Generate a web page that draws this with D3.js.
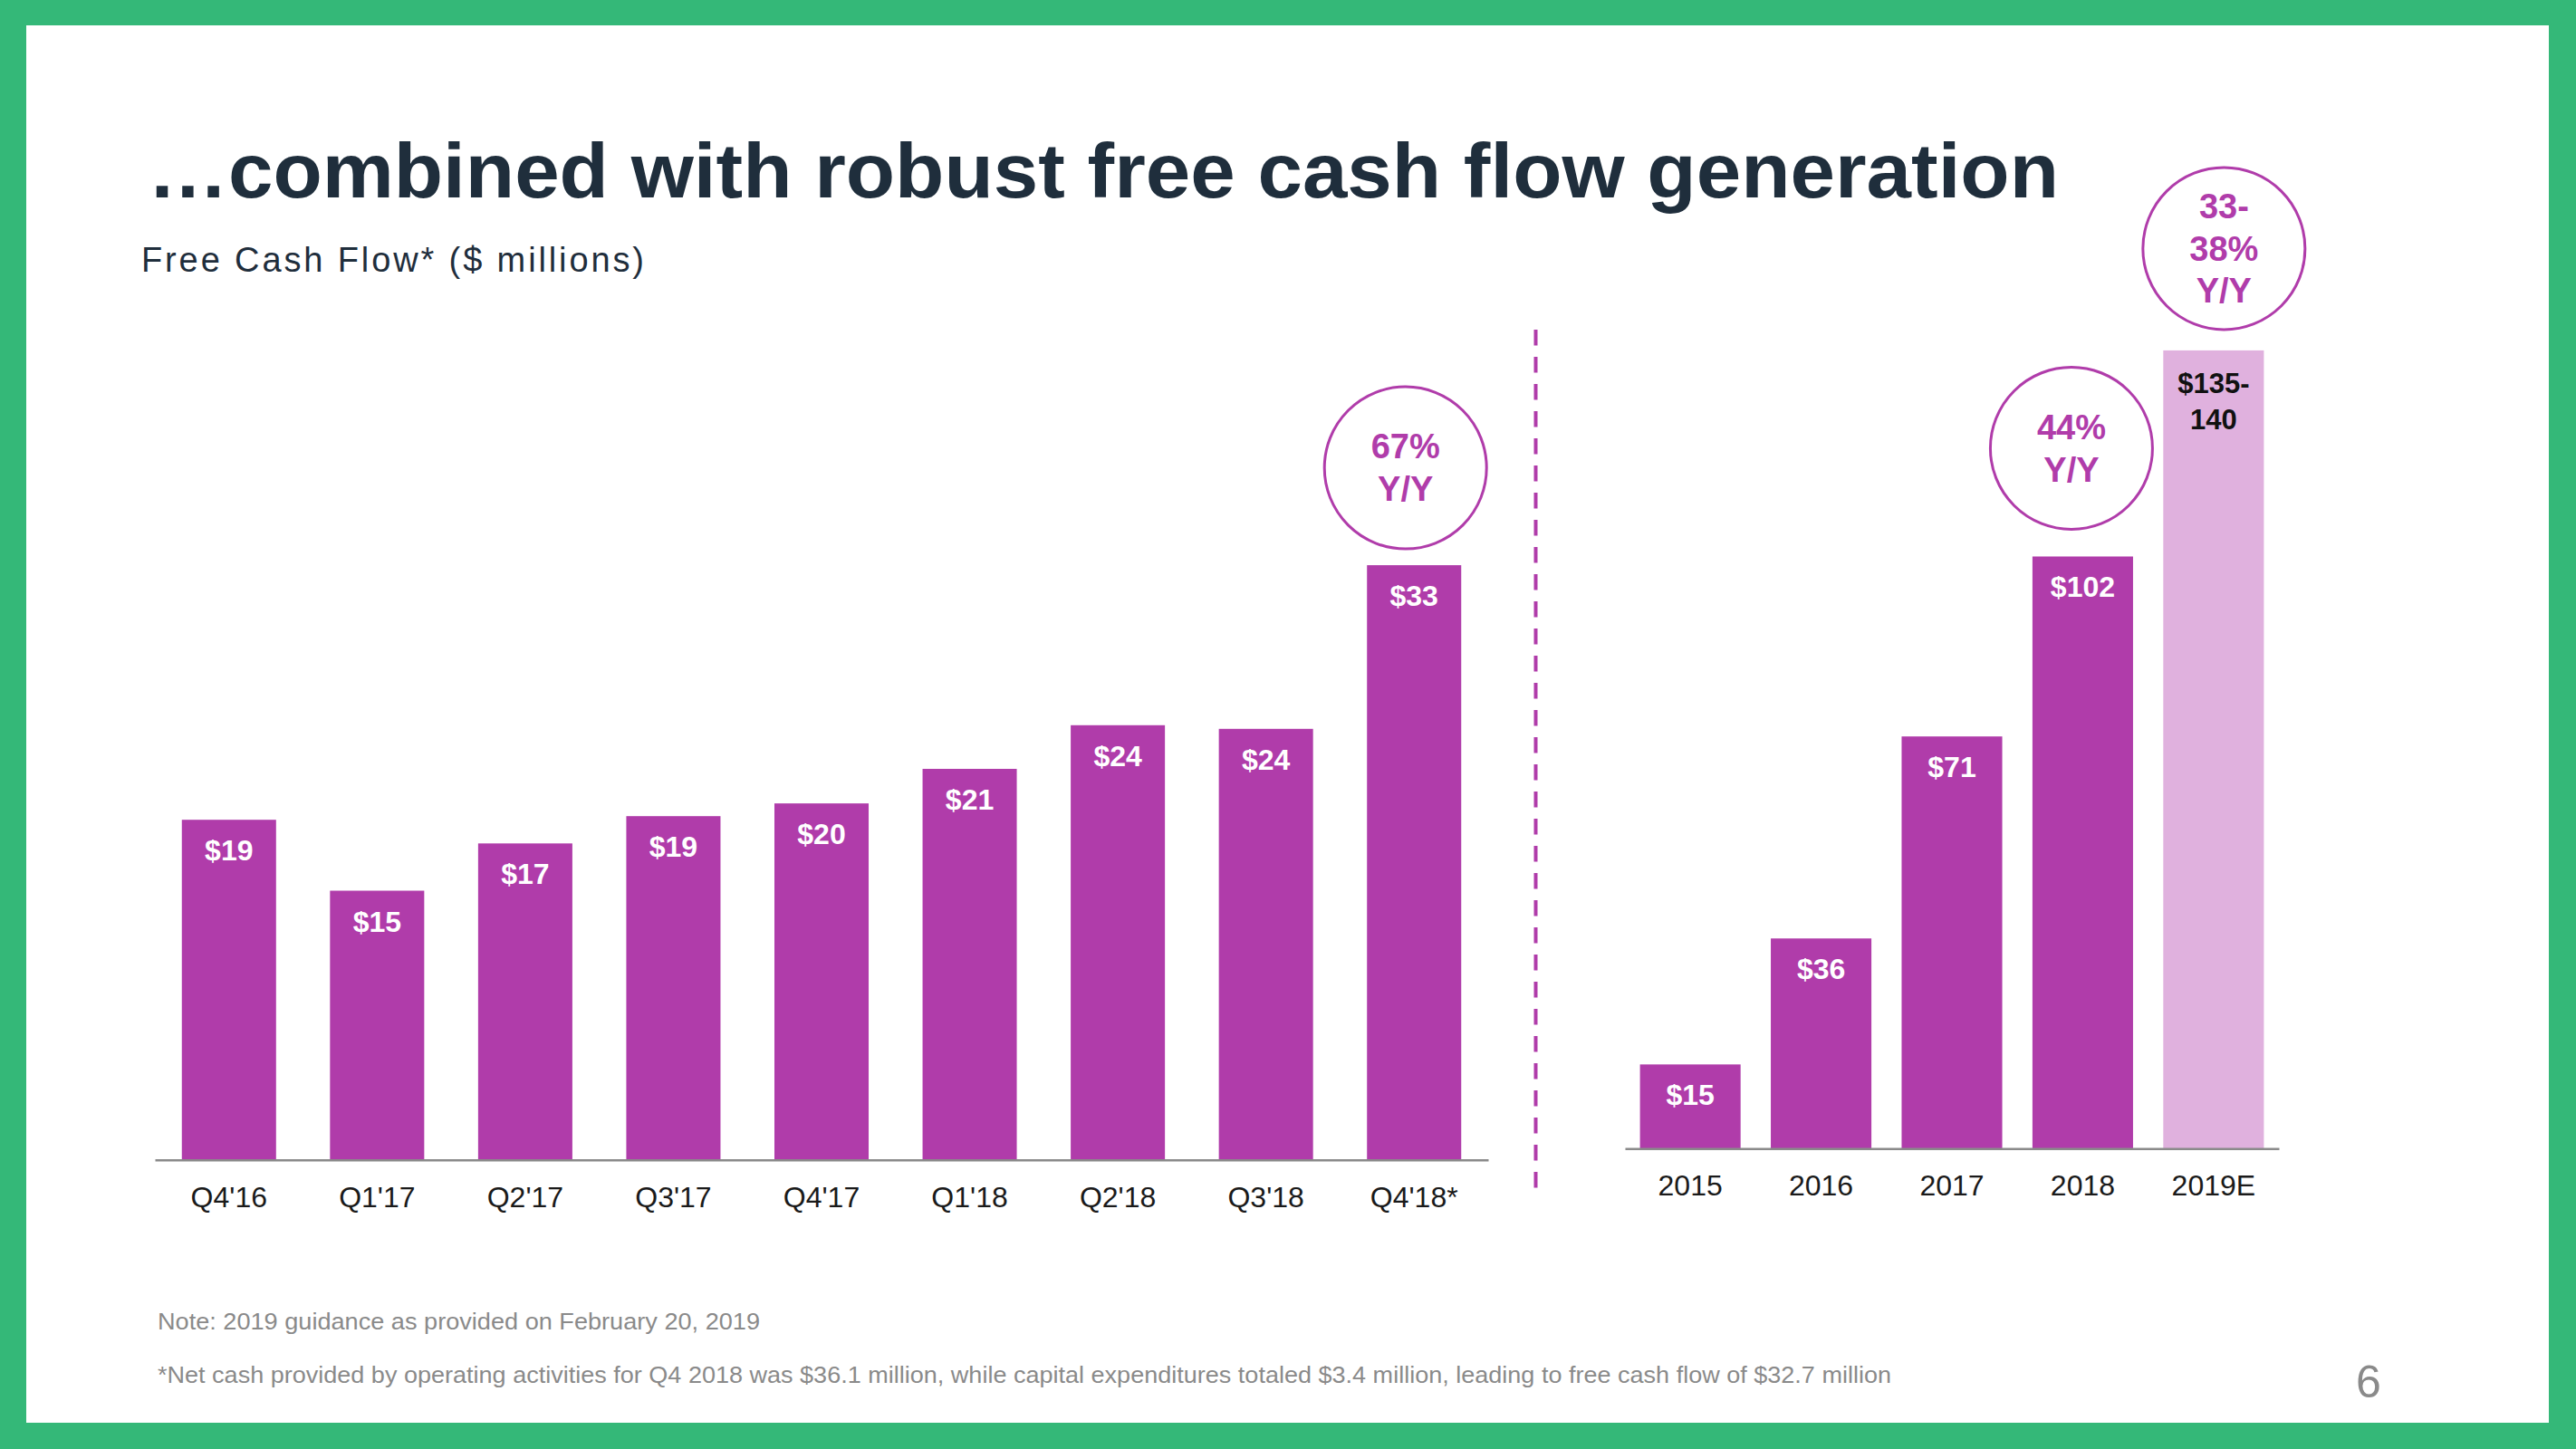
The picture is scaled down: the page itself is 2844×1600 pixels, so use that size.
<!DOCTYPE html>
<html>
<head>
<meta charset="utf-8">
<script src="https://cdn.jsdelivr.net/npm/d3@7"></script>
<style>
  html, body { margin: 0; padding: 0; background: #34b878; }
  svg { display: block; }
  text { font-family: "Liberation Sans", Arial, Helvetica, sans-serif; }
</style>
</head>
<body>
<script>
// ---------- DATA ----------
const quarterCategories = ["Q4'16", "Q1'17", "Q2'17", "Q3'17", "Q4'17", "Q1'18", "Q2'18", "Q3'18", "Q4'18*"];
const quarterValues     = [18.7, 14.8, 17.4, 18.9, 19.6, 21.5, 23.9, 23.7, 32.7];
const quarterLabels     = ["$19", "$15", "$17", "$19", "$20", "$21", "$24", "$24", "$33"];

const yearCategories = ["2015", "2016", "2017", "2018", "2019E"];
const yearValues     = [14.5, 36.2, 71, 102, 137.5];
const yearLabels     = [["$15"], ["$36"], ["$71"], ["$102"], ["$135-", "140"]];
const yearIsEstimate = [false, false, false, false, true];

const growthCategories = ["Q4'18*", "2018", "2019E"];
const growthLines      = [["67%", "Y/Y"], ["44%", "Y/Y"], ["33-", "38%", "Y/Y"]];

const titleText    = "\u2026combined with robust free cash flow generation";
const subtitleText = "Free Cash Flow* ($ millions)";
const noteText     = "Note: 2019 guidance as provided on February 20, 2019";
const footText     = "*Net cash provided by operating activities for Q4 2018 was $36.1 million, while capital expenditures totaled $3.4 million, leading to free cash flow of $32.7 million";
const pageNumber   = "6";

// ---------- STYLE / LAYOUT ----------
const W = 2844, H = 1600;
const PURPLE = "#b03caa", LIGHT = "#e0b1de", GREEN = "#34b878", NAVY = "#1f2e3c";

const svg = d3.select("body").append("svg").attr("width", W).attr("height", H);
svg.append("rect").attr("width", W).attr("height", H).attr("fill", GREEN);
svg.append("rect").attr("x", 29).attr("y", 28).attr("width", 2785).attr("height", 1543).attr("fill", "#fff");

// Title & subtitle
svg.append("text").attr("x", 163).attr("y", 218)
  .attr("font-size", 85).attr("font-weight", "bold").attr("fill", NAVY)
  .attr("textLength", 2110).attr("lengthAdjust", "spacingAndGlyphs")
  .text(titleText);
svg.append("text").attr("x", 156).attr("y", 300)
  .attr("font-size", 38).attr("fill", NAVY)
  .attr("textLength", 555).attr("lengthAdjust", "spacing")
  .text(subtitleText);

// ---------- LEFT CHART ----------
const xL = d3.scaleBand().domain(quarterCategories).range([171, 1643]).paddingInner(0.364).paddingOuter(0.182);
const yL = d3.scaleLinear().domain([0, 35]).range([1280.7, 1280.7 - 35 * 20.08]);

// ---------- RIGHT CHART ----------
const xR = d3.scaleBand().domain(yearCategories).range([1794, 2516]).paddingInner(0.231).paddingOuter(0.115);
const yR = d3.scaleLinear().domain([0, 140]).range([1268.3, 1268.3 - 140 * 6.41]);

function drawAxis(x, y, cls) {
  const g = svg.append("g").attr("class", cls)
    .attr("transform", `translate(0,${y(0)})`)
    .call(d3.axisBottom(x).tickSize(0).tickSizeOuter(0));
  g.select(".domain").attr("stroke", "#8a8a8a").attr("stroke-width", 2.5);
  g.selectAll(".tick text").attr("dy", null).attr("y", 52)
    .attr("font-size", 32).attr("fill", "#1a1a1a")
    .attr("font-family", "'Liberation Sans', Arial, sans-serif");
}

// left bars
svg.append("g").selectAll("rect").data(quarterCategories).join("rect")
  .attr("x", d => xL(d)).attr("width", xL.bandwidth())
  .attr("y", (d, i) => yL(quarterValues[i]))
  .attr("height", (d, i) => yL(0) - yL(quarterValues[i]))
  .attr("fill", PURPLE);
svg.append("g").selectAll("text").data(quarterCategories).join("text")
  .attr("x", d => xL(d) + xL.bandwidth() / 2)
  .attr("y", (d, i) => yL(quarterValues[i]) + 45)
  .attr("text-anchor", "middle").attr("font-size", 32).attr("font-weight", "bold").attr("fill", "#fff")
  .text((d, i) => quarterLabels[i]);
drawAxis(xL, yL, "axisL");

// right bars
svg.append("g").selectAll("rect").data(yearCategories).join("rect")
  .attr("x", d => xR(d)).attr("width", xR.bandwidth())
  .attr("y", (d, i) => yR(yearValues[i]))
  .attr("height", (d, i) => yR(0) - yR(yearValues[i]))
  .attr("fill", (d, i) => yearIsEstimate[i] ? LIGHT : PURPLE);
const yl = svg.append("g").selectAll("text").data(yearCategories).join("text")
  .attr("x", d => xR(d) + xR.bandwidth() / 2)
  .attr("y", (d, i) => yR(yearValues[i]) + (yearLabels[i].length > 1 ? 47.5 : 45))
  .attr("text-anchor", "middle").attr("font-size", (d, i) => yearLabels[i].length > 1 ? 31 : 32)
  .attr("font-weight", "bold")
  .attr("fill", (d, i) => yearIsEstimate[i] ? "#111" : "#fff");
yl.each(function(d, i) {
  const t = d3.select(this);
  yearLabels[i].forEach((line, j) => {
    t.append("tspan").attr("x", xR(d) + xR.bandwidth() / 2).attr("dy", j === 0 ? 0 : 39.5).text(line);
  });
});
drawAxis(xR, yR, "axisR");

// divider
svg.append("line").attr("x1", 1695.5).attr("x2", 1695.5).attr("y1", 364).attr("y2", 1320)
  .attr("stroke", PURPLE).attr("stroke-width", 4).attr("stroke-dasharray", "17.5 12.5");

// growth circles
const circleOffsets = [{dx: -9.5, dy: 107.5}, {dx: -12.5, dy: 119.5}, {dx: 11.5, dy: 112.5}];
growthCategories.forEach((cat, k) => {
  let cx, cy;
  const qi = quarterCategories.indexOf(cat);
  if (qi >= 0) {
    cx = xL(cat) + xL.bandwidth() / 2 + circleOffsets[k].dx;
    cy = yL(quarterValues[qi]) - circleOffsets[k].dy;
  } else {
    const yi = yearCategories.indexOf(cat);
    cx = xR(cat) + xR.bandwidth() / 2 + circleOffsets[k].dx;
    cy = yR(yearValues[yi]) - circleOffsets[k].dy;
  }
  svg.append("circle").attr("cx", cx).attr("cy", cy).attr("r", 89.5)
    .attr("fill", "#fff").attr("stroke", PURPLE).attr("stroke-width", 3);
  const lines = growthLines[k], L = 46.7, cap = 26.5;
  const t = svg.append("text").attr("text-anchor", "middle").attr("font-size", 38)
    .attr("font-weight", "bold").attr("fill", PURPLE);
  lines.forEach((ln, j) => {
    t.append("tspan").attr("x", cx).attr("y", cy - (lines.length - 1) * L / 2 + cap / 2 + j * L).text(ln);
  });
});

// footnotes
svg.append("text").attr("x", 174).attr("y", 1468).attr("font-size", 26).attr("fill", "#8a8a8a")
  .attr("textLength", 665).attr("lengthAdjust", "spacingAndGlyphs").text(noteText);
svg.append("text").attr("x", 174).attr("y", 1527).attr("font-size", 26).attr("fill", "#8a8a8a")
  .attr("textLength", 1914).attr("lengthAdjust", "spacingAndGlyphs").text(footText);
svg.append("text").attr("x", 2615).attr("y", 1543).attr("font-size", 50).attr("font-weight", 300)
  .attr("font-family", "Roboto, 'Open Sans', Lato, sans-serif")
  .attr("text-anchor", "middle").attr("fill", "#8a8a8a").text(pageNumber);
</script>
</body>
</html>
